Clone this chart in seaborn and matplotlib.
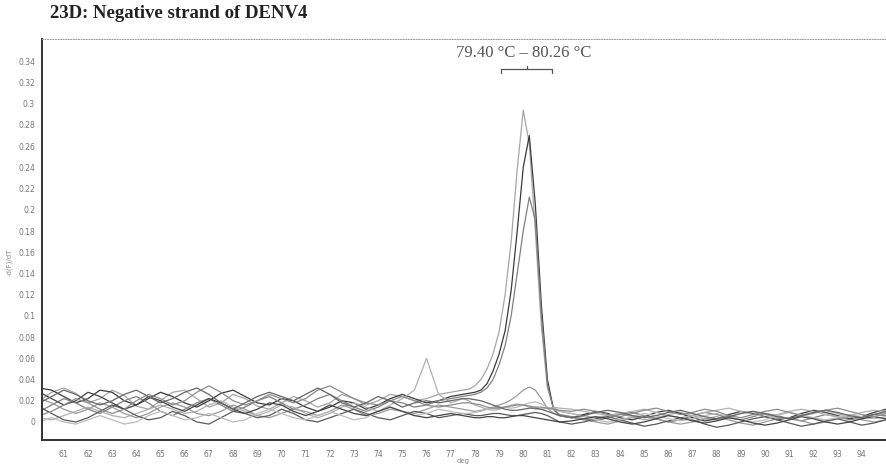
import numpy as np
import pandas as pd
import matplotlib
matplotlib.use("Agg")
import matplotlib.pyplot as plt
import seaborn as sns

# temperature grid: 0.5 deg steps, finer (0.25) round the melt peak
temps = np.concatenate([
    np.arange(60.0, 77.51, 0.5),
    np.arange(77.75, 81.51, 0.25),
    np.arange(82.0, 95.01, 0.5),
])

# -dF/dT per trace (60-77.5 | 77.75-81.5 | 82-95)
trace_a = [0.020, 0.028, 0.032, 0.027, 0.018, 0.022, 0.030, 0.025, 0.015, 0.012,
           0.020, 0.028, 0.030, 0.022, 0.014, 0.018, 0.026, 0.022, 0.015, 0.012,
           0.018, 0.024, 0.020, 0.014, 0.018, 0.026, 0.022, 0.016, 0.020, 0.026,
           0.024, 0.020, 0.022, 0.026, 0.028, 0.030,
           0.031, 0.034, 0.040, 0.050, 0.064, 0.085, 0.120, 0.170, 0.238, 0.294,
           0.262, 0.180, 0.090, 0.032, 0.014, 0.010,
           0.008, 0.006, 0.004, 0.006, 0.008, 0.005, 0.002, 0.004, 0.007, 0.009,
           0.006, 0.003, 0.002, 0.005, 0.008, 0.010, 0.007, 0.004, 0.003, 0.006,
           0.009, 0.011, 0.008, 0.005, 0.004, 0.007, 0.009]
trace_b = [0.032, 0.030, 0.024, 0.018, 0.022, 0.030, 0.028, 0.020, 0.016, 0.022,
           0.028, 0.024, 0.018, 0.014, 0.020, 0.027, 0.030, 0.024, 0.018, 0.016,
           0.022, 0.020, 0.014, 0.010, 0.014, 0.020, 0.018, 0.012, 0.016, 0.022,
           0.026, 0.022, 0.018, 0.020, 0.024, 0.026,
           0.027, 0.028, 0.030, 0.036, 0.048, 0.064, 0.086, 0.124, 0.180, 0.240,
           0.270, 0.205, 0.110, 0.040, 0.012, 0.006,
           0.004, 0.007, 0.010, 0.008, 0.004, 0.002, 0.005, 0.009, 0.011, 0.008,
           0.004, 0.001, 0.003, 0.007, 0.010, 0.008, 0.005, 0.002, 0.004, 0.008,
           0.011, 0.009, 0.006, 0.003, 0.005, 0.009, 0.012]
trace_c = [0.010, 0.016, 0.022, 0.018, 0.012, 0.008, 0.014, 0.020, 0.024, 0.018,
           0.010, 0.006, 0.012, 0.018, 0.022, 0.016, 0.010, 0.014, 0.020, 0.024,
           0.018, 0.012, 0.016, 0.022, 0.026, 0.020, 0.014, 0.010, 0.014, 0.020,
           0.018, 0.014, 0.016, 0.020, 0.022, 0.024,
           0.025, 0.026, 0.028, 0.032, 0.040, 0.054, 0.072, 0.100, 0.140, 0.180,
           0.212, 0.190, 0.100, 0.035, 0.012, 0.007,
           0.005, 0.003, 0.001, 0.004, 0.007, 0.009, 0.006, 0.003, 0.000, 0.002,
           0.006, 0.009, 0.007, 0.004, 0.002, 0.005, 0.008, 0.006, 0.003, 0.001,
           0.004, 0.007, 0.005, 0.002, 0.004, 0.007, 0.006]
trace_d = [0.004, 0.002, 0.006, 0.010, 0.014, 0.010, 0.006, 0.004, 0.008, 0.012,
           0.016, 0.012, 0.008, 0.010, 0.016, 0.020, 0.014, 0.010, 0.006, 0.010,
           0.016, 0.014, 0.008, 0.004, 0.008, 0.014, 0.018, 0.014, 0.010, 0.016,
           0.022, 0.030, 0.060, 0.026, 0.018, 0.022,
           0.020, 0.016, 0.014, 0.012, 0.011, 0.012, 0.014, 0.016, 0.017, 0.016,
           0.014, 0.012, 0.012, 0.013, 0.014, 0.013,
           0.012, 0.010, 0.008, 0.006, 0.008, 0.010, 0.012, 0.009, 0.006, 0.004,
           0.006, 0.009, 0.011, 0.013, 0.010, 0.007, 0.005, 0.007, 0.010, 0.012,
           0.010, 0.007, 0.005, 0.006, 0.009, 0.011, 0.010]
trace_e = [0.022, 0.018, 0.012, 0.008, 0.012, 0.018, 0.014, 0.008, 0.004, 0.008,
           0.014, 0.018, 0.014, 0.008, 0.006, 0.010, 0.016, 0.012, 0.006, 0.004,
           0.008, 0.012, 0.010, 0.006, 0.010, 0.016, 0.012, 0.006, 0.008, 0.012,
           0.010, 0.008, 0.012, 0.016, 0.014, 0.012,
           0.011, 0.010, 0.011, 0.012, 0.014, 0.016, 0.018, 0.021, 0.025, 0.030,
           0.033, 0.030, 0.022, 0.013, 0.008, 0.006,
           0.004, 0.002, 0.000, -0.002, 0.001, 0.004, 0.006, 0.003, 0.000, -0.002,
           0.000, 0.003, 0.005, 0.002, -0.001, -0.003, 0.000, 0.003, 0.004, 0.001,
           -0.002, 0.000, 0.003, 0.005, 0.002, 0.000, 0.002]
trace_f = [0.014, 0.008, 0.002, 0.000, 0.004, 0.010, 0.016, 0.012, 0.006, 0.002,
           0.004, 0.010, 0.006, 0.000, -0.002, 0.004, 0.010, 0.008, 0.004, 0.006,
           0.012, 0.008, 0.002, 0.000, 0.004, 0.008, 0.012, 0.008, 0.004, 0.002,
           0.006, 0.010, 0.008, 0.004, 0.006, 0.008,
           0.007, 0.006, 0.006, 0.007, 0.008, 0.008, 0.007, 0.006, 0.006, 0.007,
           0.008, 0.009, 0.008, 0.006, 0.003, 0.000,
           -0.002, 0.000, 0.003, 0.005, 0.002, -0.001, -0.004, -0.002, 0.001, 0.004,
           0.002, -0.002, -0.005, -0.003, 0.000, 0.003, 0.005, 0.002, -0.001, -0.004,
           -0.002, 0.001, 0.003, 0.000, -0.003, -0.001, 0.002]
trace_g = [0.000, 0.004, 0.000, -0.002, 0.002, 0.006, 0.002, -0.002, 0.000, 0.006,
           0.010, 0.006, 0.002, 0.004, 0.008, 0.004, 0.000, 0.002, 0.008, 0.012,
           0.008, 0.004, 0.002, 0.006, 0.010, 0.006, 0.002, 0.004, 0.010, 0.014,
           0.010, 0.006, 0.008, 0.012, 0.010, 0.008,
           0.008, 0.009, 0.010, 0.012, 0.013, 0.014, 0.014, 0.013, 0.014, 0.016,
           0.018, 0.019, 0.017, 0.014, 0.012, 0.010,
           0.008, 0.005, 0.002, 0.000, 0.002, 0.005, 0.008, 0.006, 0.003, 0.001,
           0.003, 0.006, 0.008, 0.005, 0.002, 0.000, 0.002, 0.006, 0.009, 0.007,
           0.004, 0.002, 0.004, 0.007, 0.005, 0.003, 0.005]
trace_h = [0.028, 0.022, 0.016, 0.020, 0.028, 0.024, 0.018, 0.012, 0.016, 0.024,
           0.020, 0.014, 0.010, 0.016, 0.022, 0.018, 0.012, 0.008, 0.012, 0.018,
           0.016, 0.010, 0.006, 0.010, 0.016, 0.012, 0.008, 0.006, 0.010, 0.014,
           0.010, 0.006, 0.004, 0.006, 0.008, 0.006,
           0.005, 0.004, 0.004, 0.005, 0.005, 0.004, 0.004, 0.005, 0.006, 0.006,
           0.005, 0.004, 0.003, 0.002, 0.001, 0.000,
           0.001, 0.003, 0.005, 0.003, 0.000, -0.002, 0.000, 0.003, 0.006, 0.004,
           0.001, -0.001, 0.001, 0.004, 0.002, -0.001, -0.003, -0.001, 0.002, 0.005,
           0.003, 0.000, -0.002, 0.000, 0.003, 0.005, 0.003]
trace_i = [0.006, 0.010, 0.016, 0.022, 0.018, 0.012, 0.008, 0.012, 0.020, 0.026,
           0.022, 0.016, 0.020, 0.028, 0.034, 0.028, 0.020, 0.016, 0.020, 0.026,
           0.022, 0.018, 0.022, 0.030, 0.034, 0.028, 0.022, 0.018, 0.016, 0.020,
           0.024, 0.020, 0.016, 0.014, 0.016, 0.018,
           0.018, 0.017, 0.016, 0.014, 0.013, 0.013, 0.014, 0.015, 0.016, 0.016,
           0.015, 0.014, 0.014, 0.013, 0.012, 0.011,
           0.010, 0.012, 0.010, 0.007, 0.005, 0.008, 0.011, 0.013, 0.010, 0.007,
           0.009, 0.012, 0.010, 0.006, 0.004, 0.007, 0.010, 0.012, 0.009, 0.006,
           0.008, 0.011, 0.013, 0.010, 0.007, 0.005, 0.008]
trace_j = [0.018, 0.024, 0.030, 0.026, 0.020, 0.016, 0.020, 0.026, 0.030, 0.024,
           0.018, 0.022, 0.028, 0.032, 0.026, 0.018, 0.012, 0.018, 0.024, 0.028,
           0.024, 0.020, 0.026, 0.032, 0.026, 0.018, 0.014, 0.018, 0.024, 0.020,
           0.014, 0.018, 0.020, 0.018, 0.020, 0.022,
           0.022, 0.021, 0.020, 0.018, 0.016, 0.014, 0.012, 0.011, 0.011, 0.012,
           0.013, 0.013, 0.012, 0.010, 0.008, 0.006,
           0.004, 0.006, 0.009, 0.011, 0.009, 0.006, 0.004, 0.006, 0.009, 0.011,
           0.008, 0.005, 0.003, 0.005, 0.008, 0.010, 0.008, 0.005, 0.003, 0.006,
           0.009, 0.011, 0.009, 0.006, 0.004, 0.007, 0.010]

traces = {"A": trace_a, "B": trace_b, "C": trace_c, "D": trace_d, "E": trace_e,
          "F": trace_f, "G": trace_g, "H": trace_h, "I": trace_i, "J": trace_j}
grays = {"A": "#a6a6a6", "B": "#3a3a3a", "C": "#808080", "D": "#b0b0b0",
         "E": "#9a9a9a", "F": "#5a5a5a", "G": "#bcbcbc", "H": "#444444",
         "I": "#8c8c8c", "J": "#666666"}

y_ticks = [0, 0.02, 0.04, 0.06, 0.08, 0.1, 0.12, 0.14, 0.16, 0.18, 0.2,
           0.22, 0.24, 0.26, 0.28, 0.3, 0.32, 0.34]
x_ticks = list(range(61, 95))
range_label = "79.40 \u00b0C \u2013 80.26 \u00b0C"
brace_span = (79.1, 81.2)

frames = []
for name, vals in traces.items():
    frames.append(pd.DataFrame({"temp": temps, "value": vals, "trace": name}))
df = pd.concat(frames, ignore_index=True)

sns.set_style("white")
plt.rcParams["font.family"] = ["DejaVu Sans"]

fig = plt.figure(figsize=(8.86, 4.65), dpi=100)
ax = fig.add_axes([42 / 886, 25 / 465, (886 - 42) / 886, 401 / 465])

sns.lineplot(data=df, x="temp", y="value", hue="trace", palette=grays,
             estimator=None, sort=False, legend=False, linewidth=0.9, ax=ax)

ax.set_xlim(60.1, 95.0)
ax.set_ylim(-0.017, 0.361)
ax.set_xticks(x_ticks)
ax.set_xticklabels([str(t) for t in x_ticks])
ax.set_yticks(y_ticks)
ax.set_yticklabels([f"{v:g}" for v in y_ticks])
ax.tick_params(axis="both", labelsize=5.5, labelcolor="#777777", colors="#999999",
               length=2, width=0.5)
ax.tick_params(axis="x", pad=5)
ax.tick_params(axis="y", pad=3)
ax.set_xlabel("")
ax.set_ylabel("")

for side in ["left", "bottom"]:
    ax.spines[side].set_color("#333333")
    ax.spines[side].set_linewidth(1.4)
ax.spines["top"].set_color("#999999")
ax.spines["top"].set_linewidth(0.7)
ax.spines["top"].set_linestyle(":")
ax.spines["right"].set_visible(False)

# range annotation with a bracket above the melt peak
ax.text(80.0, 0.348, range_label, ha="center", va="center", fontsize=12,
        color="#555555", family=["Liberation Serif", "DejaVu Serif"])
mid = (brace_span[0] + brace_span[1]) / 2
ax.plot([brace_span[0], brace_span[0], brace_span[1], brace_span[1]],
        [0.329, 0.333, 0.333, 0.329], color="#555555", linewidth=0.9)
ax.plot([mid, mid], [0.333, 0.336], color="#555555", linewidth=0.9)

fig.text(50 / 886, 1 - 14 / 465, "23D: Negative strand of DENV4", ha="left",
         va="center", fontsize=13.5, fontweight="bold", color="#222222",
         family=["Liberation Serif", "DejaVu Serif"])
fig.text(463 / 886, 1 - 461 / 465, "deg", ha="center", va="center",
         fontsize=5, color="#888888")
fig.text(9 / 886, 1 - 262 / 465, "-d(F)/dT", ha="center", va="center",
         fontsize=5, color="#888888", rotation=90)

fig.savefig("out.png", dpi=100)
